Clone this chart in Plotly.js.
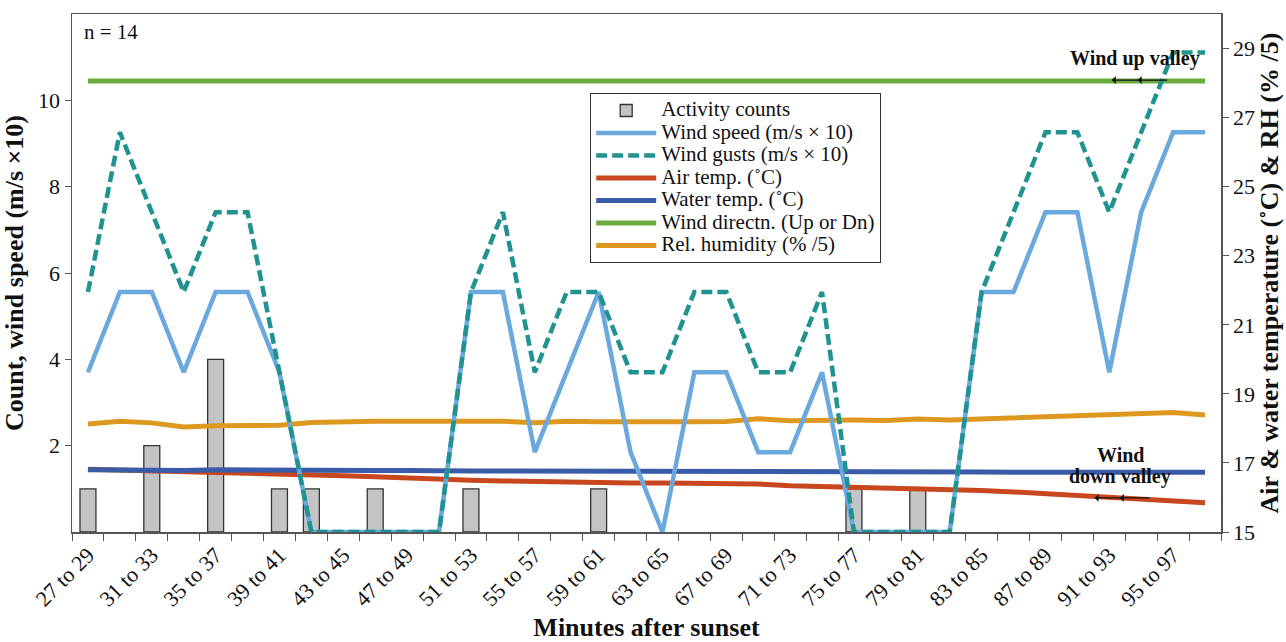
<!DOCTYPE html>
<html>
<head>
<meta charset="utf-8">
<script src="https://cdn.plot.ly/plotly-3.0.1.min.js"></script>
<style>html,body{margin:0;padding:0;background:#fff;}#chart{width:1286px;height:642px;}</style>
</head>
<body>
<div id="chart"></div>
<script>
// Category labels (2-minute windows after sunset)
const categories = ["27 to 29","29 to 31","31 to 33","33 to 35","35 to 37","37 to 39","39 to 41","41 to 43","43 to 45","45 to 47","47 to 49","49 to 51","51 to 53","53 to 55","55 to 57","57 to 59","59 to 61","61 to 63","63 to 65","65 to 67","67 to 69","69 to 71","71 to 73","73 to 75","75 to 77","77 to 79","79 to 81","81 to 83","83 to 85","85 to 87","87 to 89","89 to 91","91 to 93","93 to 95","95 to 97","97 to 99"];
// Shown tick labels (every other category)
const tickLabels = ["27 to 29","","31 to 33","","35 to 37","","39 to 41","","43 to 45","","47 to 49","","51 to 53","","55 to 57","","59 to 61","","63 to 65","","67 to 69","","71 to 73","","75 to 77","","79 to 81","","83 to 85","","87 to 89","","91 to 93","","95 to 97",""];

const activityCounts = [1,null,2,null,4,null,1,1,null,1,null,null,1,null,null,null,1,null,null,null,null,null,null,null,1,null,1,null,null,null,null,null,null,null,null,null];
const windSpeed = [3.70,5.56,5.56,3.70,5.56,5.56,3.70,0,0,0,0,0,5.56,5.56,1.85,3.70,5.56,1.85,0,3.70,3.70,1.85,1.85,3.70,0,0,0,0,5.56,5.56,7.41,7.41,3.70,7.41,9.26,9.26];
const windGusts = [5.56,9.26,7.41,5.56,7.41,7.41,3.70,0,0,0,0,0,5.56,7.41,3.70,5.56,5.56,3.70,3.70,5.56,5.56,3.70,3.70,5.56,0,0,0,0,5.56,7.41,9.26,9.26,7.41,9.26,11.11,11.11];
const airTemp = [16.82,16.80,16.78,16.76,16.72,16.70,16.68,16.66,16.63,16.60,16.56,16.53,16.50,16.48,16.46,16.45,16.43,16.42,16.42,16.41,16.40,16.39,16.34,16.32,16.30,16.29,16.27,16.25,16.20,16.16,16.11,16.05,15.98,15.96,15.91,15.85];
const waterTemp = [16.80,16.79,16.79,16.78,16.80,16.79,16.81,16.80,16.79,16.78,16.78,16.79,16.77,16.77,16.77,16.77,16.77,16.77,16.76,16.76,16.75,16.75,16.75,16.74,16.74,16.74,16.74,16.74,16.74,16.73,16.73,16.72,16.73,16.73,16.73,16.73];
const windDirection = [10.45,10.45,10.45,10.45,10.45,10.45,10.45,10.45,10.45,10.45,10.45,10.45,10.45,10.45,10.45,10.45,10.45,10.45,10.45,10.45,10.45,10.45,10.45,10.45,10.45,10.45,10.45,10.45,10.45,10.45,10.45,10.45,10.45,10.45,10.45,10.45];
const relHumidity = [18.13,18.21,18.16,18.04,18.08,18.09,18.09,18.17,18.20,18.21,18.21,18.21,18.21,18.21,18.16,18.21,18.19,18.18,18.18,18.19,18.20,18.28,18.22,18.24,18.24,18.23,18.27,18.24,18.27,18.33,18.33,18.37,18.42,18.45,18.46,18.39];

const leftTicks = [2,4,6,8,10];
const rightTicks = [15,17,19,21,23,25,27,29];

const FONT = "'Liberation Serif', 'Times New Roman', Times, serif";
const big = s => '<span style="font-size:21px">' + s + '</span>';

const traces = [
  {type:'bar', name:big('Activity counts'), x:categories, y:activityCounts, xaxis:'x', yaxis:'y', width:0.5,
   marker:{color:'#c4c4c4', line:{color:'#333', width:1.3}}, legendrank:1},
  {type:'scatter', mode:'lines', name:big('Air temp. (˚C)'), x:categories, y:airTemp, xaxis:'x', yaxis:'y2',
   line:{color:'#c8471e', width:5}, legendrank:4},
  {type:'scatter', mode:'lines', name:big('Water temp. (˚C)'), x:categories, y:waterTemp, xaxis:'x', yaxis:'y2',
   line:{color:'#3a5ba8', width:5}, legendrank:5},
  {type:'scatter', mode:'lines', name:big('Rel. humidity (% /5)'), x:categories, y:relHumidity, xaxis:'x', yaxis:'y2',
   line:{color:'#de981f', width:5}, legendrank:7},
  {type:'scatter', mode:'lines', name:big('Wind directn. (Up or Dn)'), x:categories, y:windDirection, xaxis:'x', yaxis:'y3',
   line:{color:'#6aaa3a', width:5}, legendrank:6},
  {type:'scatter', mode:'lines', name:big('Wind speed (m/s × 10)'), x:categories, y:windSpeed, xaxis:'x', yaxis:'y3',
   line:{color:'#6aa8de', width:4.5}, legendrank:2},
  {type:'scatter', mode:'lines', name:big('Wind gusts (m/s × 10)'), x:categories, y:windGusts, xaxis:'x', yaxis:'y3',
   line:{color:'#20928f', width:4.5, dash:'11px,5px'}, legendrank:3}
];

const axisCommon = {showgrid:false, zeroline:false, showline:true, linecolor:'#555', linewidth:1.5,
  ticks:'outside', ticklen:7, tickcolor:'#555', tickfont:{family:FONT, size:22, color:'#111'}};

const arrow = (x, y) => ({xref:'paper', yref:'y', x:x, y:y, text:'', showarrow:true, arrowhead:1, arrowsize:1.1,
  arrowwidth:1.2, arrowcolor:'#111', ax:30, ay:0, font:{size:1}, borderpad:0});

const layout = {
  width:1286, height:642,
  margin:{l:72, r:65, t:14, b:110},
  paper_bgcolor:'#fff', plot_bgcolor:'#fff',
  font:{family:FONT, size:22, color:'#111'},
  showlegend:true,
  legend:{x:0.451, y:0.847, xanchor:'left', yanchor:'top', bgcolor:'#fff', bordercolor:'#333', borderwidth:1,
          font:{family:FONT, size:15, color:'#111'}, itemwidth:60, tracegroupgap:0},
  xaxis:Object.assign({}, axisCommon, {type:'category', categoryorder:'array', categoryarray:categories,
    tickmode:'array', tickvals:categories, ticktext:tickLabels, tickson:'boundaries', tickangle:-45,
    mirror:true, range:[-0.5, categories.length-0.5],
    title:{text:'<b>Minutes after sunset</b>', font:{family:FONT, size:26, color:'#111'}, standoff:8}}),
  yaxis:Object.assign({}, axisCommon, {range:[0,12], tickmode:'array', tickvals:leftTicks, ticklen:6,
    title:{text:'<b>Count, wind speed (m/s ×10)</b>', font:{family:FONT, size:26, color:'#111'}, standoff:10}}),
  yaxis2:Object.assign({}, axisCommon, {overlaying:'y', side:'right', range:[15,30], tickmode:'array', tickvals:rightTicks, ticklen:6,
    title:{text:'<b>Air & water temperature (˚C) & RH (% /5)</b>', font:{family:FONT, size:26, color:'#111'}, standoff:6}}),
  yaxis3:{overlaying:'y', range:[0,12], visible:false, showgrid:false, zeroline:false},
  annotations:[
    {xref:'paper', yref:'paper', x:0.0087, y:0.965, xanchor:'left', yanchor:'middle', showarrow:false,
     text:'n = 14', font:{family:FONT, size:21, color:'#111'}},
    {xref:'paper', yref:'paper', x:0.9835, y:0.915, xanchor:'right', yanchor:'middle', showarrow:false,
     text:'<b>Wind up valley</b>', font:{family:FONT, size:20, color:'#111'}},
    {xref:'paper', yref:'paper', x:0.9121, y:0.149, xanchor:'center', yanchor:'middle', showarrow:false,
     text:'<b>Wind</b>', font:{family:FONT, size:20, color:'#111'}},
    {xref:'paper', yref:'paper', x:0.9121, y:0.107, xanchor:'center', yanchor:'middle', showarrow:false,
     text:'<b>down valley</b>', font:{family:FONT, size:20, color:'#111'}},
    arrow(0.905, 10.47), arrow(0.9275, 10.47),
    arrow(0.890, 0.79), arrow(0.912, 0.79)
  ]
};

Plotly.newPlot('chart', traces, layout, {displayModeBar:false, staticPlot:true});
</script>
</body>
</html>
